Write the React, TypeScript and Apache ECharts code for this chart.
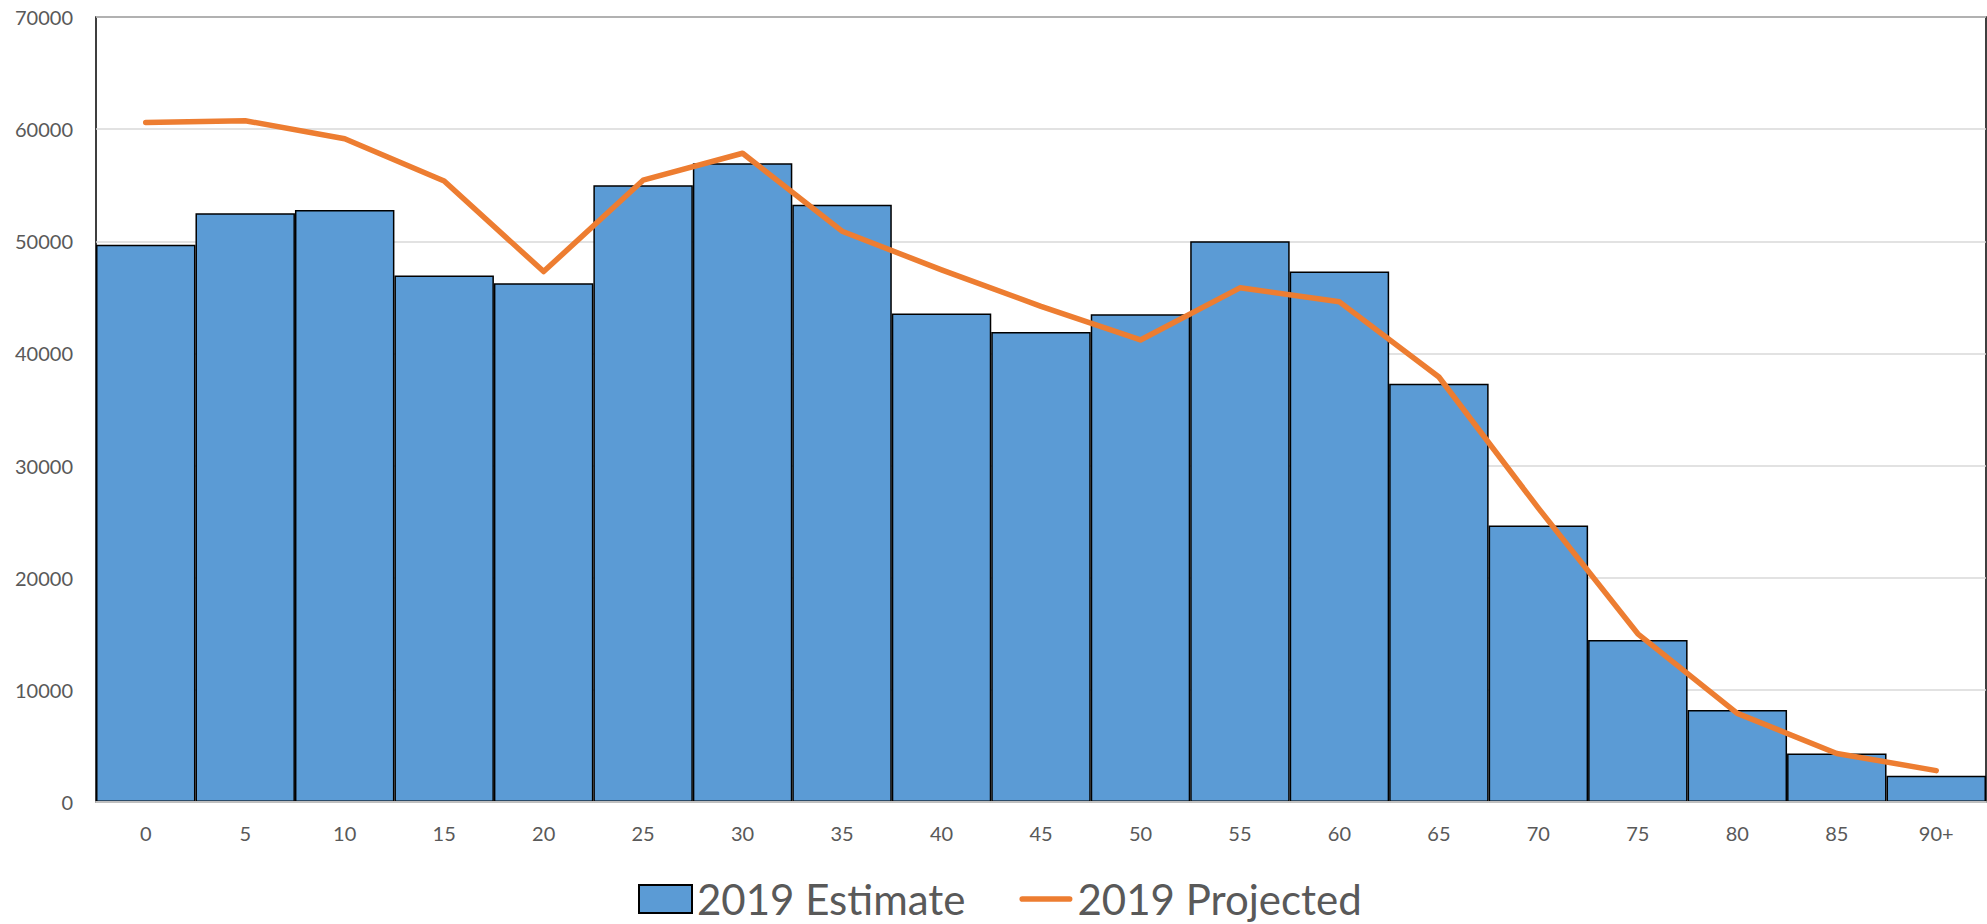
import React, { useEffect, useRef } from "react";
import * as echarts from "echarts";

const categories = ["0", "5", "10", "15", "20", "25", "30", "35", "40", "45", "50", "55", "60", "65", "70", "75", "80", "85", "90+"];
const estimate2019 = [49700, 52500, 52800, 46950, 46250, 55000, 56950, 53250, 43550, 41900, 43500, 50000, 47300, 37300, 24650, 14450, 8200, 4330, 2350];
const projected2019 = [60600, 60750, 59150, 55380, 47300, 55450, 57850, 50900, 47450, 44200, 41200, 45850, 44600, 37900, 26200, 15000, 7900, 4330, 2800];
const yTicks = { min: 0, max: 70000, interval: 10000 };

const lineIcon =
  "path://M2.5,0 L44.5,0 A2.5,2.5 0 0 1 44.5,5 L2.5,5 A2.5,2.5 0 0 1 2.5,0 Z";

export default function App() {
  const ref = useRef<HTMLDivElement>(null);
  useEffect(() => {
    if (!ref.current) return;
    const chart = echarts.init(ref.current, undefined, { renderer: "svg" });
    const font = "Lato, 'Open Sans', sans-serif";
    chart.setOption({
      animation: false,
      textStyle: { fontFamily: font },
      grid: {
        left: 96,
        right: 1,
        top: 17,
        bottom: 122,
        show: true,
        borderColor: "#000000",
        borderWidth: 1.5,
        backgroundColor: "transparent",
      },
      legend: {
        left: 633,
        top: 873,
        itemWidth: 53,
        itemHeight: 28,
        itemGap: 54,
        symbolKeepAspect: true,
        textStyle: { fontSize: 42, lineHeight: 42, color: "#595959", fontFamily: font },
        data: [
          { name: "2019 Estimate", icon: "rect" },
          {
            name: "2019 Projected",
            icon: lineIcon,
            itemStyle: { color: "#ed7d31", borderWidth: 0 },
          },
        ],
      },
      xAxis: {
        type: "category",
        data: categories,
        boundaryGap: true,
        z: 5,
        axisLine: { show: true, lineStyle: { color: "#bfbfbf", width: 2 } },
        axisTick: { show: false },
        axisLabel: { color: "#595959", fontSize: 20, margin: 21, fontFamily: font },
        splitLine: { show: false },
      },
      yAxis: {
        type: "value",
        min: yTicks.min,
        max: yTicks.max,
        interval: yTicks.interval,
        axisLine: { show: false },
        axisTick: { show: false },
        axisLabel: {
          color: "#595959",
          fontSize: 20,
          margin: 23,
          fontFamily: font,
          formatter: (v: number) => String(v),
        },
        splitLine: { show: true, lineStyle: { color: "#d9d9d9", width: 1.5 } },
      },
      series: [
        {
          name: "2019 Estimate",
          type: "bar",
          data: estimate2019,
          barCategoryGap: "0%",
          itemStyle: { color: "#5b9bd5", borderColor: "#000000", borderWidth: 1.5 },
        },
        {
          name: "2019 Projected",
          type: "line",
          data: projected2019,
          symbol: "none",
          lineStyle: { color: "#ed7d31", width: 5.5, cap: "round", join: "round" },
          itemStyle: { color: "#ed7d31" },
          z: 4,
        },
      ],
    });
    return () => chart.dispose();
  }, []);
  return (
    <div
      ref={ref}
      style={{ position: "absolute", left: 0, top: 0, width: 1987, height: 924, background: "#ffffff" }}
    />
  );
}
